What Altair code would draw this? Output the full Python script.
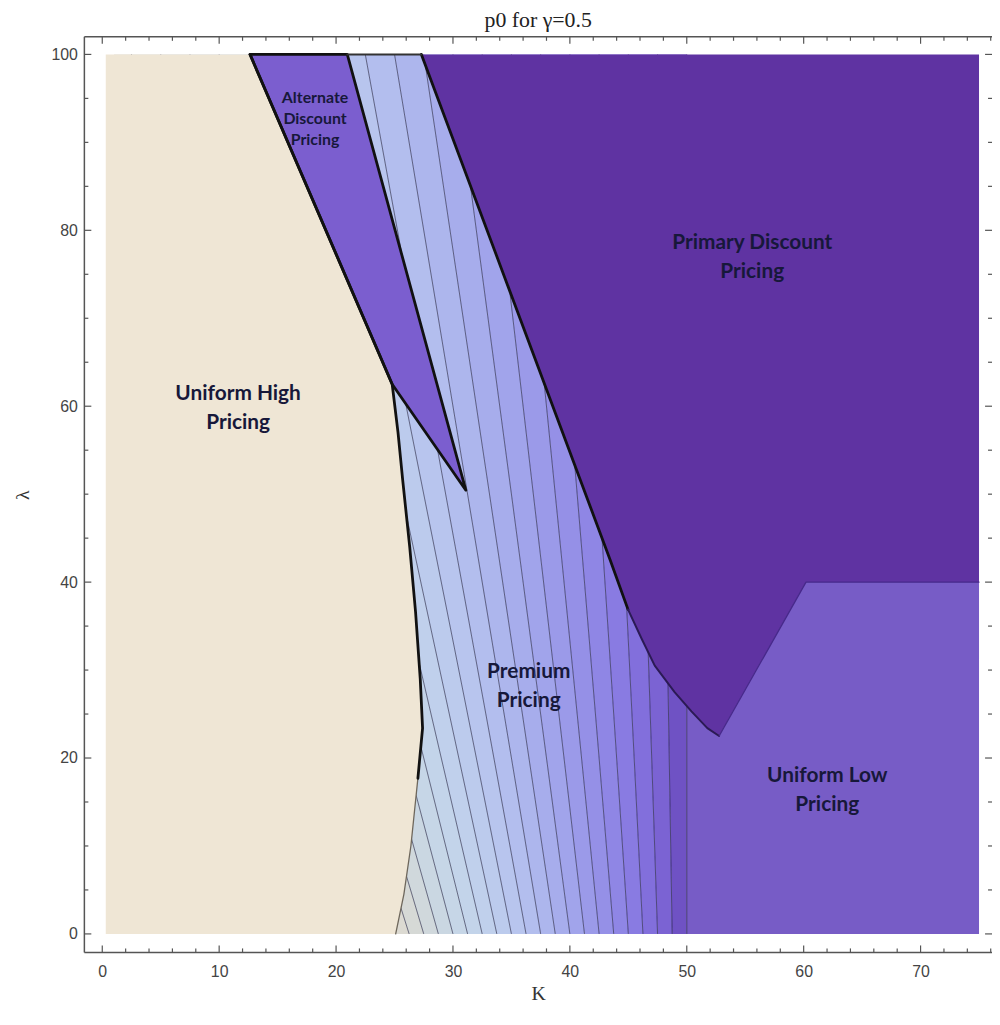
import altair as alt
import pandas as pd

# ---------------- data ----------------
TITLE = "p0 for γ=0.5"
X_TITLE = "K"
Y_TITLE = "λ"

x_major = [0, 10, 20, 30, 40, 50, 60, 70]
x_minor = [2, 4, 6, 8, 12, 14, 16, 18, 22, 24, 26, 28, 32, 34, 36, 38, 42, 44, 46, 48,
           52, 54, 56, 58, 62, 64, 66, 68, 72, 74, 76]
y_major = [0, 20, 40, 60, 80, 100]
y_minor = [5, 10, 15, 25, 30, 35, 45, 50, 55, 65, 70, 75, 85, 90, 95]

# contour lines of p0 inside the premium region: K where each line meets lambda=0 and lambda=100
contour_k_at_0 = [25.0, 26.25, 27.5, 28.75, 30.0, 31.25, 32.5, 33.75, 35.0, 36.25, 37.5,
                  38.75, 40.0, 41.25, 42.5, 43.75, 45.0, 46.25, 47.5, 48.75, 50.0]
contour_k_at_100 = [1.0, 2.5, 5.0, 7.5, 10.0, 12.5, 15.0, 17.5, 20.0, 22.5, 25.0,
                    27.5, 30.0, 32.5, 35.0, 37.5, 40.0, 42.5, 45.0, 47.5, 50.0]
band_colors = ["#DCDAD2", "#D6D9D6", "#D0D8DC", "#CAD7E2", "#C6D6E7", "#C3D4EA", "#C0D0EC",
               "#BCCBED", "#B8C5EE", "#B3BEEE", "#ADB6ED", "#A7ADEC", "#A1A4EB", "#9B9AE9",
               "#9590E7", "#8F86E5", "#897BE2", "#826FDC", "#7B63D3", "#6F52C4"]

# regions (K, lambda)
uh_k = [0.3, 25.1, 25.8, 26.4, 27.0, 27.4, 27.2, 26.8, 26.3, 25.7, 25.3, 24.8, 12.64, 0.3]
uh_l = [0, 0, 4.5, 10.0, 17.7, 23.4, 29.0, 36.6, 44.0, 51.6, 57.0, 62.5, 100, 100]
alt_k = [12.64, 20.96, 31.1, 24.8]
alt_l = [100, 100, 50.45, 62.5]
pd_k = [27.3, 75.0, 75.0, 60.2, 52.77, 51.76, 50.4, 48.96, 47.26, 46.16, 44.97, 43.44]
pd_l = [100, 100, 40.0, 40.0, 22.5, 23.4, 25.3, 27.5, 30.5, 33.5, 36.9, 42.55]
ul_k = [50.0, 75.0, 75.0, 60.2, 52.77, 51.76, 50.4, 50.0]
ul_l = [0, 0, 40.0, 40.0, 22.5, 23.4, 25.3, 25.9]

region_colors = {"uh": "#EFE6D5", "alt": "#7B5ECF", "pd": "#5F33A2", "ul": "#775CC6"}

# boundary lines
edge_uh_thin_k = [25.1, 25.8, 26.4, 27.0]
edge_uh_thin_l = [0, 4.5, 10.0, 17.7]
edge_uh_thick_k = [27.0, 27.4, 27.2, 26.8, 26.3, 25.7, 25.3, 24.8, 12.64]
edge_uh_thick_l = [17.7, 23.4, 29.0, 36.6, 44.0, 51.6, 57.0, 62.5, 100]
edge_alt_k = [12.64, 20.96, 31.1, 24.8, 12.64]
edge_alt_l = [100, 100, 50.45, 62.5, 100]
edge_pd_thick_k = [27.3, 43.44, 44.97]
edge_pd_thick_l = [100, 42.55, 36.9]
edge_v_left_k = [44.97, 46.16, 47.26, 48.96, 50.4, 51.76, 52.77]
edge_v_left_l = [36.9, 33.5, 30.5, 27.5, 25.3, 23.4, 22.5]
edge_v_right_k = [52.77, 60.2, 75.0]
edge_v_right_l = [22.5, 40.0, 40.0]
edge_top_k = [20.96, 27.3]
edge_top_l = [100, 100]

label_text = ["Alternate\nDiscount\nPricing", "Primary Discount\nPricing",
              "Uniform High\nPricing", "Premium\nPricing", "Uniform Low\nPricing"]
label_k = [18.2, 55.6, 11.62, 36.48, 62.02]
label_l = [95.0, 78.5, 61.35, 29.8, 17.9]

# ---------------- layout ----------------
W, H = 915, 923
XDOM = [-1.53, 76.11]
YDOM = [-2.1, 102.0]
FRAME = "#555555"

xscale = alt.Scale(domain=XDOM, nice=False, zero=False)
yscale = alt.Scale(domain=YDOM, nice=False, zero=False)
xaxis = alt.Axis(values=x_major, ticks=False, domain=False, grid=False, labelFont="Liberation Sans",
                 labelFontSize=16, labelColor="#444444", labelPadding=11, title=X_TITLE,
                 titleFont="Liberation Serif", titleFontSize=20, titleFontWeight="normal",
                 titleColor="#333333", titleY=42, titleBaseline="middle")
yaxis = alt.Axis(values=y_major, ticks=False, domain=False, grid=False, labelFont="Liberation Sans",
                 labelFontSize=16, labelColor="#444444", labelPadding=7, title=Y_TITLE,
                 titleFont="Liberation Serif", titleFontSize=20, titleFontWeight="normal",
                 titleColor="#333333", titleX=-62, titleY=H / 2, titleBaseline="middle")
X = alt.X("x:Q", scale=xscale, axis=xaxis)
Y = alt.Y("y:Q", scale=yscale, axis=yaxis)


def poly_df(name, ks, ls, color):
    return pd.DataFrame({"poly": name, "idx": list(range(len(ks))), "x": ks, "y": ls, "c": color})


def polygon_layer(df):
    return alt.Chart(df).mark_line(filled=True, strokeWidth=0).encode(
        x=X, y=Y, color=alt.Color("c:N", scale=None), detail="poly:N", order=alt.Order("idx:Q"))


def edge_layer(ks, ls, color, width):
    df = pd.DataFrame({"idx": list(range(len(ks))), "x": ks, "y": ls})
    return alt.Chart(df).mark_line(color=color, strokeWidth=width, strokeJoin="round",
                                   strokeCap="round").encode(x=X, y=Y, order=alt.Order("idx:Q"))


# bands between successive contour lines
band_rows = []
for b in range(len(band_colors)):
    band_rows.append({"band": b, "y": 0, "x": contour_k_at_0[b], "x2": contour_k_at_0[b + 1], "c": band_colors[b]})
    band_rows.append({"band": b, "y": 100, "x": contour_k_at_100[b], "x2": contour_k_at_100[b + 1], "c": band_colors[b]})
bands = alt.Chart(pd.DataFrame(band_rows)).mark_area(orient="horizontal", strokeWidth=0).encode(
    y=Y, x=X, x2="x2:Q", color=alt.Color("c:N", scale=None), detail="band:N")

line_rows = []
for i in range(1, len(contour_k_at_0)):
    line_rows.append({"line": i, "o": 0, "x": contour_k_at_0[i], "y": 0})
    line_rows.append({"line": i, "o": 1, "x": contour_k_at_100[i], "y": 100})
contours = alt.Chart(pd.DataFrame(line_rows)).mark_line(color="#1e1e3c", opacity=0.62, strokeWidth=1).encode(
    x=X, y=Y, detail="line:N", order=alt.Order("o:Q"))

ul_layer = polygon_layer(poly_df("ul", ul_k, ul_l, region_colors["ul"]))
regions = polygon_layer(pd.concat([
    poly_df("uh", uh_k, uh_l, region_colors["uh"]),
    poly_df("alt", alt_k, alt_l, region_colors["alt"]),
    poly_df("pd", pd_k, pd_l, region_colors["pd"]),
], ignore_index=True))

edges = [
    edge_layer(edge_uh_thin_k, edge_uh_thin_l, "#6e675c", 1.3),
    edge_layer(edge_uh_thick_k, edge_uh_thick_l, "#111111", 2.8),
    edge_layer(edge_alt_k, edge_alt_l, "#111111", 2.8),
    edge_layer(edge_pd_thick_k, edge_pd_thick_l, "#111111", 2.8),
    edge_layer(edge_v_left_k, edge_v_left_l, "#2b1a55", 2.0),
    edge_layer(edge_v_right_k, edge_v_right_l, "#46288a", 1.3),
    edge_layer(edge_top_k, edge_top_l, "#333333", 2.0),
]

lab = pd.DataFrame({"x": label_k, "y": label_l, "t": label_text})
labels_small = alt.Chart(lab.iloc[:1]).mark_text(font="Lato", fontWeight="bold", fontSize=16, lineHeight=21,
                                                 color="#17183a", lineBreak="\n", align="center",
                                                 baseline="middle").encode(x=X, y=Y, text="t:N")
labels_big = alt.Chart(lab.iloc[1:]).mark_text(font="Lato", fontWeight="bold", fontSize=21, lineHeight=29,
                                               color="#17183a", lineBreak="\n", align="center",
                                               baseline="middle").encode(x=X, y=Y, text="t:N")

# frame and inward ticks
one = pd.DataFrame({"a": [0]})
frame = [
    alt.Chart(one).mark_rule(color=FRAME, strokeWidth=1.5).encode(x=alt.value(0), y=alt.value(0), y2=alt.value(H)),
    alt.Chart(one).mark_rule(color=FRAME, strokeWidth=1.5).encode(x=alt.value(0), x2=alt.value(W), y=alt.value(0)),
    alt.Chart(one).mark_rule(color=FRAME, strokeWidth=1.5).encode(x=alt.value(0), x2=alt.value(W), y=alt.value(H)),
]


def xticks(vals, length):
    df = pd.DataFrame({"x": vals})
    return [
        alt.Chart(df).mark_rule(color=FRAME, strokeWidth=1.2).encode(x=X, y=alt.value(H), y2=alt.value(H - length)),
        alt.Chart(df).mark_rule(color=FRAME, strokeWidth=1.2).encode(x=X, y=alt.value(0), y2=alt.value(length)),
    ]


def yticks(vals, length):
    df = pd.DataFrame({"y": vals})
    return [
        alt.Chart(df).mark_rule(color=FRAME, strokeWidth=1.2).encode(y=Y, x=alt.value(0), x2=alt.value(length)),
        alt.Chart(df).mark_rule(color=FRAME, strokeWidth=1.2).encode(y=Y, x=alt.value(W), x2=alt.value(W - length)),
    ]


ticks = xticks(x_major, 7) + xticks(x_minor, 4) + yticks(y_major, 7) + yticks(y_minor, 4)

chart = alt.layer(
    bands, ul_layer, contours, regions, *edges, labels_small, labels_big, *frame, *ticks
).properties(
    width=W, height=H,
    title=alt.TitleParams(TITLE, font="Liberation Serif", fontSize=22, fontWeight="normal",
                          color="#222222", offset=4, anchor="middle"),
    padding={"left": 77, "top": 25, "right": 0, "bottom": 52},
    autosize=alt.AutoSizeParams(type="none"),
    background="white",
).configure_view(stroke=None)

chart.save("out.html", embed_options={"renderer": "svg", "actions": False})
